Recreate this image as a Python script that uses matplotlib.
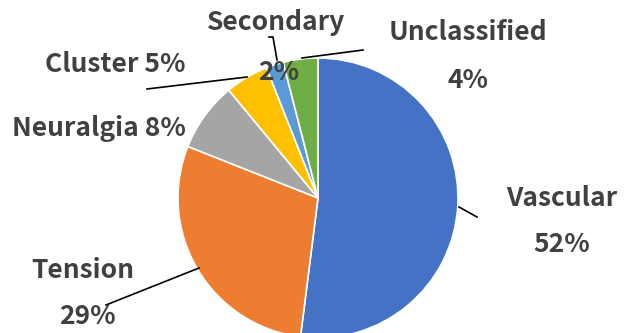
import matplotlib.pyplot as plt

plt.rcParams['font.family'] = ['Noto Sans CJK JP', 'DejaVu Sans']

labels = ['Vascular', 'Tension', 'Neuralgia', 'Cluster', 'Secondary', 'Unclassified']
shares = [52, 29, 8, 5, 2, 4]
colors = ['#4472C4', '#ED7D31', '#A5A5A5', '#FFC000', '#5B9BD5', '#70AD47']

# label text lines (pixel coords, y down) and leader lines
label_lines = [
    [('Vascular', 562, 198), ('52%', 562, 245)],
    [('Tension', 83, 270), ('29%', 87, 316)],
    [('Neuralgia 8%', 99, 128)],
    [('Cluster 5%', 115, 65)],
    [('Secondary', 276, 22), ('2%', 279, 72)],
    [('Unclassified', 468, 32), ('4%', 468, 80)],
]
leaders = [
    [(459, 207), (477, 217)],
    [(199, 268), (106, 305)],
    None,
    [(247, 77), (147, 89)],
    [(277, 60), (273, 37), (269, 37)],
    [(302, 58), (363, 50)],
]

W, H = 624, 333
fig = plt.figure(figsize=(W / 100, H / 100), dpi=100)
ax = fig.add_axes([0, 0, 1, 1])

ax.pie(shares, colors=colors, startangle=90, counterclock=False,
       center=(318, H - 198), radius=140,
       wedgeprops=dict(edgecolor='white', linewidth=1.2), frame=True)
ax.set_xlim(0, W)
ax.set_ylim(0, H)
ax.set_aspect('equal')
ax.axis('off')

for lines, ln in zip(label_lines, leaders):
    for txt, x, y in lines:
        ax.text(x, H - y, txt, ha='center', va='center', fontsize=19,
                fontweight='bold', color='#404040')
    if ln:
        ax.plot([p[0] for p in ln], [H - p[1] for p in ln], color='black', lw=1.2)

fig.savefig('out.png', dpi=100)
